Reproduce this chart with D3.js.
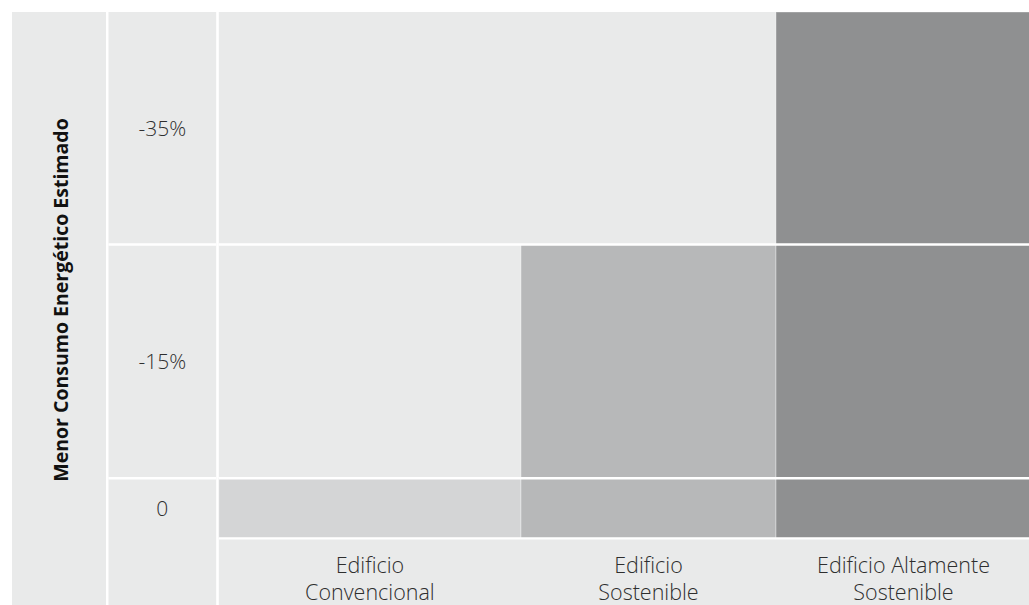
<!DOCTYPE html>
<html>
<head>
<meta charset="utf-8">
<script src="https://cdn.jsdelivr.net/npm/d3@7"></script>
<style>
  html, body { margin: 0; padding: 0; background: #ffffff; }
  svg { display: block; }
</style>
</head>
<body>
<svg id="chart" width="1029" height="605"></svg>
<script>
// Categories (columns) and their estimated energy-use reduction
const categories = ["Edificio Convencional", "Edificio Sostenible", "Edificio Altamente Sostenible"];
const categoryLines = [["Edificio", "Convencional"], ["Edificio", "Sostenible"], ["Edificio Altamente", "Sostenible"]];
const reduction = [0, -15, -35];

// Levels of the vertical scale, bottom to top, and their tick labels
const levels = [0, -15, -35];
const levelLabels = ["0", "-15%", "-35%"];

const yTitle = "Menor Consumo Energético Estimado";
const barColors = ["#d4d5d6", "#b7b8b9", "#8f9091"];

const W = 1029, H = 605;
const panelBg = "#e9eaea";
const textColor = "#2e2e2e";
const gap = 2.4;

const svg = d3.select("#chart");

// Column edges: title panel, tick column, then one column per category
const titleLeft = 12, titleRight = 106;
const tickLeft = 108.5, tickRight = 216.2;
const plotLeft = 218.8;

// x: category index edges -> pixels
const x = d3.scaleLinear().domain([0, 1, 2, 3]).range([plotLeft, 521, 776, 1031]);
// y: level row edges (0 = bottom of the "0" row) -> pixels
const yEdge = d3.scaleLinear().domain([0, 1, 2, 3]).range([538.4, 478.2, 244.5, 12]);
const rowOf = v => levels.indexOf(v);

// Background panels
svg.append("rect").attr("x", titleLeft).attr("y", 12)
  .attr("width", titleRight - titleLeft).attr("height", H - 12).attr("fill", panelBg);
svg.append("rect").attr("x", tickLeft).attr("y", 12)
  .attr("width", tickRight - tickLeft).attr("height", H - 12).attr("fill", panelBg);
svg.append("rect").attr("x", plotLeft).attr("y", 12)
  .attr("width", W - plotLeft).attr("height", H - 12).attr("fill", panelBg);

// Bars: each category fills from the bottom row up to the row of its reduction
svg.append("g").selectAll("rect")
  .data(categories)
  .join("rect")
  .attr("x", (d, i) => x(i))
  .attr("y", (d, i) => yEdge(rowOf(reduction[i]) + 1))
  .attr("width", (d, i) => x(i + 1) - x(i))
  .attr("height", (d, i) => yEdge(0) - yEdge(rowOf(reduction[i]) + 1))
  .attr("fill", (d, i) => barColors[i])
  .attr("stroke", "rgba(255,255,255,0.35)")
  .attr("stroke-width", 1);

// Row separators in the plot area
const plotSeps = [0, 1, 2];
svg.append("g").selectAll("line")
  .data(plotSeps)
  .join("line")
  .attr("x1", plotLeft).attr("x2", W)
  .attr("y1", d => yEdge(d)).attr("y2", d => yEdge(d))
  .attr("stroke", "#ffffff").attr("stroke-width", gap);

// Row separators in the tick column
svg.append("g").selectAll("line")
  .data([1, 2])
  .join("line")
  .attr("x1", tickLeft).attr("x2", tickRight)
  .attr("y1", d => yEdge(d)).attr("y2", d => yEdge(d))
  .attr("stroke", "#ffffff").attr("stroke-width", gap);

// Tick labels, centred in each row
svg.append("g").selectAll("text")
  .data(levels)
  .join("text")
  .attr("x", (tickLeft + tickRight) / 2)
  .attr("y", (d, i) => (yEdge(i) + yEdge(i + 1)) / 2)
  .attr("dy", "0.35em")
  .attr("text-anchor", "middle")
  .attr("font-family", "'Open Sans', sans-serif")
  .attr("font-weight", 300)
  .attr("font-size", 21)
  .attr("fill", textColor)
  .text((d, i) => levelLabels[i]);

// Category labels below the bars
const catG = svg.append("g").selectAll("text")
  .data(categories)
  .join("text")
  .attr("x", (d, i) => (x(i) + x(i + 1)) / 2)
  .attr("y", 565)
  .attr("text-anchor", "middle")
  .attr("font-family", "'Open Sans', sans-serif")
  .attr("font-weight", 300)
  .attr("font-size", 21.5)
  .attr("fill", textColor);
catG.selectAll("tspan")
  .data((d, i) => categoryLines[i])
  .join("tspan")
  .attr("x", function () { return d3.select(this.parentNode).attr("x"); })
  .attr("dy", (d, j) => j === 0 ? "0.35em" : "27px")
  .text(d => d);

// Vertical axis title
svg.append("text")
  .attr("transform", `translate(${(titleLeft + titleRight) / 2 + 2},300) rotate(-90)`)
  .attr("dy", "0.35em")
  .attr("text-anchor", "middle")
  .attr("font-family", "'Open Sans', sans-serif")
  .attr("font-weight", 700)
  .attr("font-size", 19.5)
  .attr("fill", "#111111")
  .text(yTitle);
</script>
</body>
</html>
